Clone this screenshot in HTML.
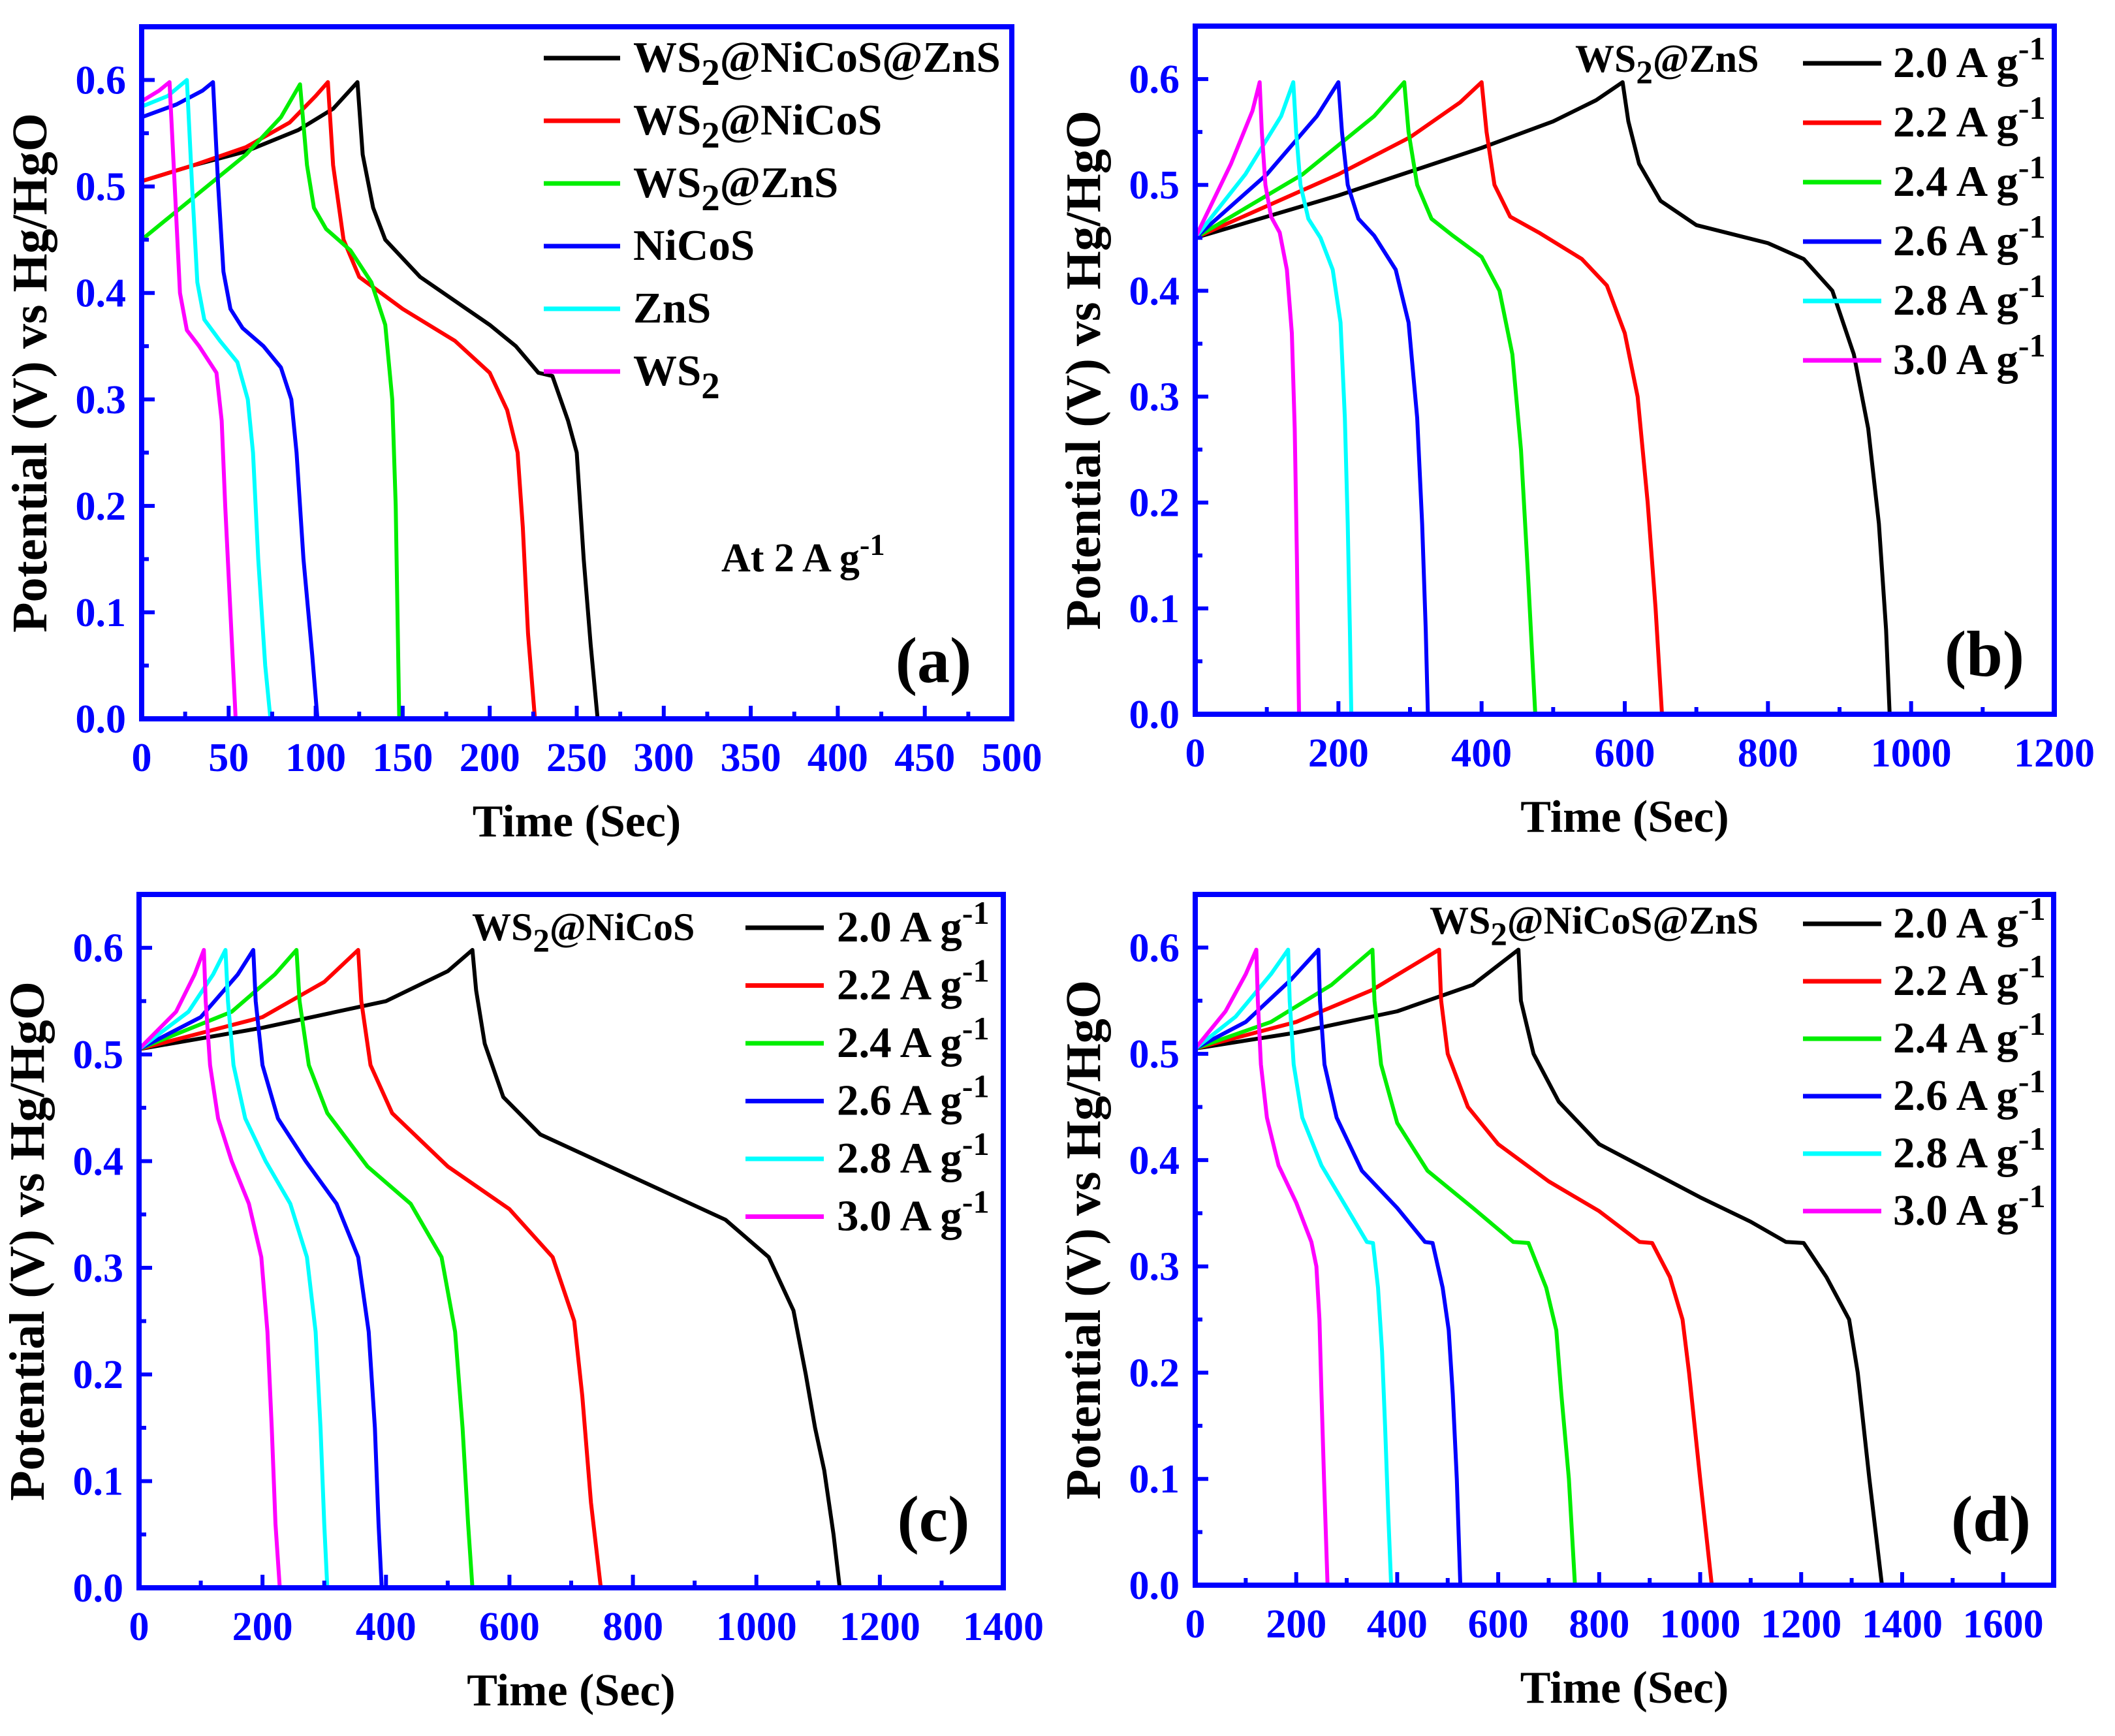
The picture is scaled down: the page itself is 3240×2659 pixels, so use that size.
<!DOCTYPE html>
<html><head><meta charset="utf-8">
<style>
html,body{margin:0;padding:0;background:#fff;}
svg{display:block;}
text{font-family:"Liberation Serif",serif;font-weight:bold;}
</style></head>
<body>
<svg id="fig" width="3240" height="2659" viewBox="0 0 3240 2659" xmlns="http://www.w3.org/2000/svg"></svg>
<script>
// ---------- data ----------
const colors = ["#000000","#ff0000","#00ee00","#0000ff","#00ffff","#ff00ff"];
const labelsA = ["WS|2|@NiCoS@ZnS","WS|2|@NiCoS","WS|2|@ZnS","NiCoS","ZnS","WS|2|"];
const labelsRate = ["2.0 A g|-1","2.2 A g|-1","2.4 A g|-1","2.6 A g|-1","2.8 A g|-1","3.0 A g|-1"];

const aBlack = [[0,0.505],[30,0.52],[60,0.533],[90,0.553],[110,0.573],[124,0.598],[127,0.53],[133,0.48],[140,0.45],[160,0.415],[200,0.37],[215,0.35],[228,0.325],[236,0.322],[245,0.28],[250,0.25],[254,0.15],[258,0.07],[262,0.0]];
const aRed = [[0,0.505],[30,0.52],[60,0.537],[85,0.56],[100,0.585],[107,0.598],[110,0.52],[116,0.45],[125,0.415],[150,0.385],[180,0.355],[200,0.325],[210,0.29],[216,0.25],[219,0.18],[222,0.08],[226,0.0]];
const aGreen = [[0,0.45],[30,0.49],[60,0.53],[80,0.565],[91,0.596],[95,0.52],[99,0.48],[106,0.46],[120,0.44],[132,0.41],[140,0.37],[144,0.3],[146,0.2],[147,0.1],[148,0.0]];
const aBlue = [[0,0.565],[20,0.577],[35,0.59],[41,0.598],[44,0.5],[47,0.42],[51,0.385],[58,0.367],[70,0.35],[80,0.33],[86,0.3],[89,0.25],[93,0.15],[98,0.06],[101,0.0]];
const aCyan = [[0,0.575],[15,0.585],[26,0.6],[29,0.5],[32,0.41],[36,0.375],[45,0.355],[55,0.335],[61,0.3],[64,0.25],[67,0.15],[71,0.05],[74,0.0]];
const aMag = [[0,0.58],[10,0.59],[16,0.598],[19,0.5],[22,0.4],[26,0.365],[33,0.35],[43,0.325],[46,0.28],[48,0.2],[51,0.1],[54,0.0]];

const bBlack = [[0,0.45],[200,0.49],[400,0.535],[500,0.56],[560,0.58],[597,0.597],[605,0.56],[620,0.52],[650,0.485],[700,0.462],[800,0.445],[850,0.43],[890,0.4],[920,0.34],[940,0.27],[955,0.18],[965,0.08],[970,0.0]];
const bRed = [[0,0.45],[200,0.51],[300,0.545],[370,0.578],[400,0.597],[407,0.55],[418,0.5],[440,0.47],[480,0.455],[540,0.43],[575,0.405],[600,0.36],[618,0.3],[632,0.2],[643,0.1],[652,0.0]];
const bGreen = [[0,0.45],[150,0.51],[250,0.565],[292,0.597],[298,0.55],[310,0.5],[330,0.468],[360,0.452],[400,0.432],[425,0.4],[443,0.34],[455,0.25],[465,0.13],[475,0.0]];
const bBlue = [[0,0.45],[100,0.51],[170,0.565],[200,0.597],[205,0.55],[213,0.5],[228,0.468],[250,0.452],[280,0.42],[298,0.37],[310,0.28],[317,0.18],[322,0.08],[325,0.0]];
const bCyan = [[0,0.45],[70,0.51],[120,0.565],[137,0.597],[141,0.55],[147,0.5],[158,0.468],[175,0.45],[192,0.42],[203,0.37],[209,0.28],[213,0.18],[216,0.08],[218,0.0]];
const bMag = [[0,0.45],[50,0.52],[80,0.57],[90,0.597],[93,0.55],[98,0.5],[106,0.47],[118,0.455],[128,0.42],[135,0.36],[139,0.27],[142,0.15],[145,0.0]];

const cBlack = [[0,0.505],[200,0.525],[400,0.55],[500,0.578],[540,0.598],[546,0.56],[560,0.51],[590,0.46],[650,0.425],[800,0.385],[950,0.345],[1020,0.31],[1060,0.26],[1080,0.2],[1095,0.15],[1110,0.11],[1125,0.05],[1135,0.0]];
const cRed = [[0,0.505],[200,0.535],[300,0.568],[355,0.598],[360,0.55],[375,0.49],[410,0.445],[500,0.395],[600,0.355],[670,0.31],[705,0.25],[718,0.18],[732,0.08],[748,0.0]];
const cGreen = [[0,0.505],[150,0.54],[220,0.575],[255,0.598],[260,0.55],[275,0.49],[305,0.445],[370,0.395],[440,0.36],[490,0.31],[512,0.24],[524,0.15],[533,0.06],[540,0.0]];
const cBlue = [[0,0.505],[100,0.535],[160,0.575],[185,0.598],[189,0.55],[200,0.49],[225,0.44],[270,0.4],[320,0.36],[355,0.31],[372,0.24],[382,0.15],[388,0.06],[393,0.0]];
const cCyan = [[0,0.505],[80,0.54],[120,0.575],[140,0.598],[144,0.55],[153,0.49],[172,0.44],[205,0.4],[245,0.36],[272,0.31],[286,0.24],[294,0.15],[300,0.06],[305,0.0]];
const cMag = [[0,0.505],[60,0.54],[90,0.575],[105,0.598],[108,0.55],[115,0.49],[128,0.44],[150,0.4],[178,0.36],[198,0.31],[208,0.24],[215,0.15],[221,0.06],[228,0.0]];

const dBlack = [[0,0.505],[200,0.52],[400,0.54],[550,0.565],[640,0.598],[645,0.55],[670,0.5],[720,0.455],[800,0.415],[900,0.39],[1000,0.365],[1100,0.342],[1170,0.323],[1205,0.322],[1250,0.29],[1295,0.25],[1312,0.2],[1335,0.1],[1360,0.0]];
const dRed = [[0,0.505],[200,0.53],[350,0.56],[483,0.598],[487,0.55],[500,0.5],[540,0.45],[600,0.415],[700,0.38],[800,0.352],[880,0.323],[905,0.322],[940,0.29],[965,0.25],[978,0.2],[1000,0.1],[1023,0.0]];
const dGreen = [[0,0.505],[150,0.53],[270,0.565],[351,0.598],[355,0.55],[368,0.49],[400,0.435],[460,0.39],[550,0.355],[630,0.323],[660,0.322],[695,0.28],[715,0.24],[725,0.18],[740,0.1],[752,0.0]];
const dBlue = [[0,0.505],[100,0.53],[190,0.57],[244,0.598],[247,0.55],[256,0.49],[280,0.44],[330,0.39],[400,0.355],[455,0.323],[470,0.322],[490,0.28],[502,0.24],[510,0.18],[518,0.1],[525,0.0]];
const dCyan = [[0,0.505],[80,0.535],[150,0.575],[184,0.598],[187,0.55],[195,0.49],[212,0.44],[250,0.395],[300,0.355],[340,0.323],[352,0.322],[362,0.28],[370,0.22],[376,0.15],[382,0.07],[388,0.0]];
const dMag = [[0,0.505],[60,0.54],[100,0.575],[121,0.598],[124,0.55],[130,0.49],[142,0.44],[165,0.395],[200,0.36],[230,0.323],[240,0.3],[246,0.25],[250,0.18],[255,0.1],[262,0.0]];

const xTicksA = [0,50,100,150,200,250,300,350,400,450,500];
const xTicksB = [0,200,400,600,800,1000,1200];
const xTicksC = [0,200,400,600,800,1000,1200,1400];
const xTicksD = [0,200,400,600,800,1000,1200,1400,1600];
const yTicks = [0.0,0.1,0.2,0.3,0.4,0.5,0.6];

// ---------- drawing ----------
const NS="http://www.w3.org/2000/svg";
const svg=document.getElementById('fig');
function mk(tag,attrs,parent){const e=document.createElementNS(NS,tag);for(const k in attrs)e.setAttribute(k,attrs[k]);(parent||svg).appendChild(e);return e;}
function richText(g,str,x,y,size,anchor,fill){
  const t=mk('text',{x:x,y:y,'font-size':size,fill:fill||'#000','text-anchor':anchor||'start'},g);
  const parts=str.split('|');
  parts.forEach((p,i)=>{
    if(!p)return;
    const s=mk('tspan',{},t);
    if(i%2===1){
      const sup=p.startsWith('-');
      s.setAttribute('dy',sup?-size*0.4:size*0.3);
      s.setAttribute('font-size',size*(sup?0.75:0.85));
    } else if(i>0){
      const prevSup=parts[i-1].startsWith('-');
      s.setAttribute('dy',prevSup?size*0.4:-size*0.3);
    }
    s.textContent=p;
  });
  return t;
}

const panels=[
 {id:'a',L:217,R:1550,T:41,B:1101,xmax:500,xt:xTicksA,xminor:25,series:[aBlack,aRed,aGreen,aBlue,aCyan,aMag],labels:labelsA,
  leg:{x1:833,x2:950,tx:970,y0:89,dy:96},title:null,letter:[1430,1045]},
 {id:'b',L:1831,R:3147,T:40,B:1094,xmax:1200,xt:xTicksB,xminor:100,series:[bBlack,bRed,bGreen,bBlue,bCyan,bMag],labels:labelsRate,
  leg:{x1:2762,x2:2882,tx:2900,y0:97,dy:91},title:['WS|2|@ZnS',2413,110],letter:[3040,1035]},
 {id:'c',L:213,R:1537,T:1370,B:2432,xmax:1400,xt:xTicksC,xminor:100,series:[cBlack,cRed,cGreen,cBlue,cCyan,cMag],labels:labelsRate,
  leg:{x1:1142,x2:1262,tx:1282,y0:1421,dy:88.5},title:['WS|2|@NiCoS',723,1440],letter:[1430,2360]},
 {id:'d',L:1831,R:3146,T:1370,B:2428,xmax:1700,xt:xTicksD,xminor:100,series:[dBlack,dRed,dGreen,dBlue,dCyan,dMag],labels:labelsRate,
  leg:{x1:2762,x2:2882,tx:2900,y0:1415,dy:88},title:['WS|2|@NiCoS@ZnS',2190,1430],letter:[3050,2360]}
];

panels.forEach(p=>{
  const g=mk('g',{});
  
  
  const X=v=>p.L+(v/p.xmax)*(p.R-p.L);
  const Y=v=>p.B-(v/0.65)*(p.B-p.T);
  p.series.forEach((s,i)=>{
    const d=s.map((pt,j)=>(j?'L':'M')+X(pt[0]).toFixed(1)+' '+Y(pt[1]).toFixed(1)).join(' ');
    const path=mk('path',{d:d,fill:'none',stroke:colors[i],'stroke-width':6,'stroke-linejoin':'round'},g);
    
    
  });
  const tg=mk('g',{stroke:'#0000ff','stroke-width':6},g);
  for(let v=0;v<=p.xmax+1e-6;v+=p.xminor){
    const major=p.xt.includes(v);
    mk('line',{x1:X(v),x2:X(v),y1:p.B,y2:p.B-(major?20:11)},tg);
  }
  for(let k=0;k<=13;k++){
    const v=k*0.05;if(v>0.65)break;
    const major=k%2===0;
    mk('line',{x1:p.L,x2:p.L+(major?20:11),y1:Y(v),y2:Y(v)},tg);
  }
  const fr=mk('rect',{x:p.L,y:p.T,width:p.R-p.L,height:p.B-p.T,fill:'none',stroke:'#0000ff','stroke-width':8},g);
  
  
  p.xt.forEach(v=>{
    const t=mk('text',{x:X(v),y:p.B+80,'font-size':62,fill:'#0000ff','text-anchor':'middle'},g);
    
    
    t.textContent=v;
  });
  yTicks.forEach(v=>{
    const t=mk('text',{x:p.L-24,y:Y(v)+21,'font-size':62,fill:'#0000ff','text-anchor':'end'},g);
    
    
    t.textContent=v.toFixed(1);
  });
  const xt=mk('text',{x:(p.L+p.R)/2,y:p.B+180,'font-size':70,fill:'#000','text-anchor':'middle'},g);
  
  
  xt.textContent='Time (Sec)';
  const yx=p.L-146, yy=(p.T+p.B)/2;
  const yt=mk('text',{x:yx,y:yy,'font-size':76,fill:'#000','text-anchor':'middle',transform:'rotate(-90 '+yx+' '+yy+')'},g);
  
  
  yt.textContent='Potential (V) vs Hg/HgO';
  p.labels.forEach((lab,i)=>{
    const y=p.leg.y0+i*p.leg.dy;
    const lg=mk('g',{},g);
    
    
    mk('line',{x1:p.leg.x1,x2:p.leg.x2,y1:y,y2:y,stroke:colors[i],'stroke-width':7},lg);
    richText(lg,lab,p.leg.tx,y+21,67,'start','#000');
  });
  if(p.title){
    const tt=richText(g,p.title[0],p.title[1],p.title[2],60,'start','#000');
    
    
  }
  const lt=mk('text',{x:p.letter[0],y:p.letter[1],'font-size':100,fill:'#000','text-anchor':'middle'},g);
  
  
  lt.textContent='('+p.id+')';
});
const at=richText(svg,'At 2 A g|-1',1105,875,62,'start','#000');


</script>
</body></html>
